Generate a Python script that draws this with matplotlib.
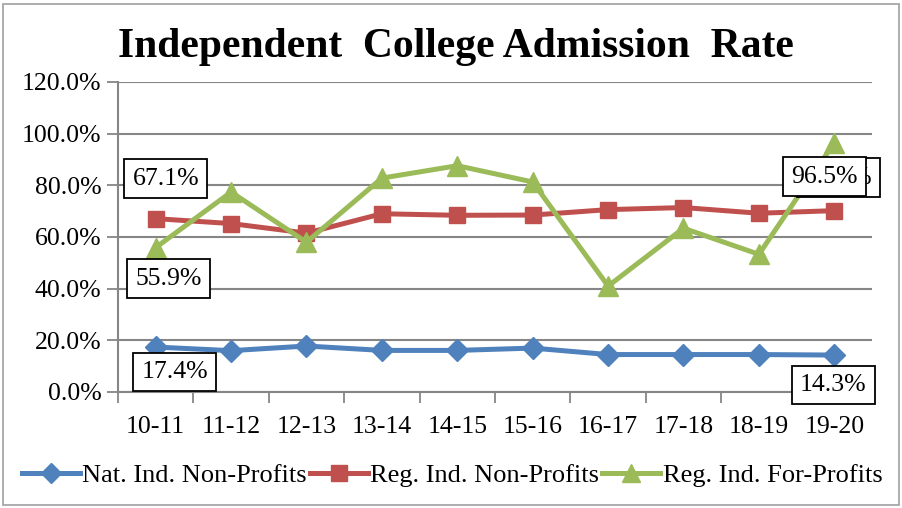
import matplotlib
matplotlib.use("Agg")
import matplotlib.pyplot as plt
from matplotlib.patches import Rectangle
from matplotlib.lines import Line2D

years = ["10-11", "11-12", "12-13", "13-14", "14-15", "15-16", "16-17", "17-18", "18-19", "19-20"]
nat_nonprofit = [17.4, 16.0, 17.8, 16.1, 16.1, 17.0, 14.5, 14.5, 14.5, 14.3]
reg_nonprofit = [67.1, 65.2, 61.5, 69.0, 68.4, 68.5, 70.6, 71.4, 69.2, 70.2]
reg_forprofit = [55.9, 77.4, 58.0, 82.8, 87.6, 81.3, 41.0, 63.4, 53.3, 96.5]
series_names = ["Nat. Ind. Non-Profits", "Reg. Ind. Non-Profits", "Reg. Ind. For-Profits"]
yticks = [0, 20, 40, 60, 80, 100, 120]

plt.rcParams['font.family'] = ['Liberation Serif', 'DejaVu Serif']

W, H = 903, 508
FS = 18.5
fig = plt.figure(figsize=(W / 100, H / 100), dpi=100)
ax = fig.add_axes([118 / W, 1 - 392 / H, (872 - 118) / W, (392 - 82) / H])

x = list(range(len(years)))
blue, red, green = "#4F81BD", "#C0504D", "#9BBB59"
ax.plot(x, nat_nonprofit, color=blue, lw=3.6, marker="D", ms=11, zorder=3)
ax.plot(x, reg_nonprofit, color=red, lw=3.6, marker="s", ms=12, zorder=3)
ax.plot(x, reg_forprofit, color=green, lw=3.6, marker="^", ms=14, zorder=4)

ax.set_xlim(-0.5, len(years) - 0.5)
ax.set_ylim(0, 120)
ax.set_yticks(yticks)
ax.set_yticklabels([f"{v:.1f}%" for v in yticks])
ax.set_xticks(x)
ax.set_xticklabels(years)
ax.set_xticks([i + 0.5 for i in range(-1, len(years))], minor=True)
ax.tick_params(axis="x", which="major", length=0, pad=17, labelsize=FS)
ax.tick_params(axis="x", which="minor", length=8, color="#868686", width=1.3)
ax.tick_params(axis="y", length=8, color="#868686", width=1.3, labelsize=FS, pad=4)
ax.yaxis.grid(True, color="#868686", lw=1.5)
ax.set_axisbelow(True)
for s in ["top", "right"]:
    ax.spines[s].set_visible(False)
for s in ["left", "bottom"]:
    ax.spines[s].set_color("#868686")
    ax.spines[s].set_linewidth(1.5)

bbox = dict(boxstyle="square,pad=0.32", fc="white", ec="black", lw=1.3)
def lab(xi, v, dx, dy, z=6):
    ax.annotate(f"{v:.1f}%", xy=(xi, v), xytext=(dx, dy), textcoords="offset pixels",
                ha="center", va="center", fontsize=FS, bbox=bbox, zorder=z,
                annotation_clip=False)

lab(0, reg_nonprofit[0], 10, 40)
lab(0, reg_forprofit[0], 13, -31)
lab(0, nat_nonprofit[0], 19, -25)
lab(9, nat_nonprofit[9], -1, -30)
lab(9, reg_nonprofit[9], 4, 33, z=5)
lab(9, reg_forprofit[9], -10, -34, z=7)

fig.text(456 / W, 1 - 47 / H, "Independent  College Admission  Rate", ha="center", va="center",
         fontsize=30, fontweight="bold")

handles = [Line2D([], [], color=blue, lw=3.6, marker="D", ms=10),
           Line2D([], [], color=red, lw=3.6, marker="s", ms=11),
           Line2D([], [], color=green, lw=3.6, marker="^", ms=13)]
fig.legend(handles, series_names, loc="center", bbox_to_anchor=(452 / W, 1 - 475 / H), ncol=3,
           frameon=False, fontsize=19, handlelength=2.2, handletextpad=0.1, columnspacing=0.1)

fig.patches.append(Rectangle((3 / W, 3 / H), (W - 7) / W, (H - 7) / H, transform=fig.transFigure,
                             fill=False, ec="#A0A0A0", lw=1.2))

fig.savefig("out.png", dpi=100)
